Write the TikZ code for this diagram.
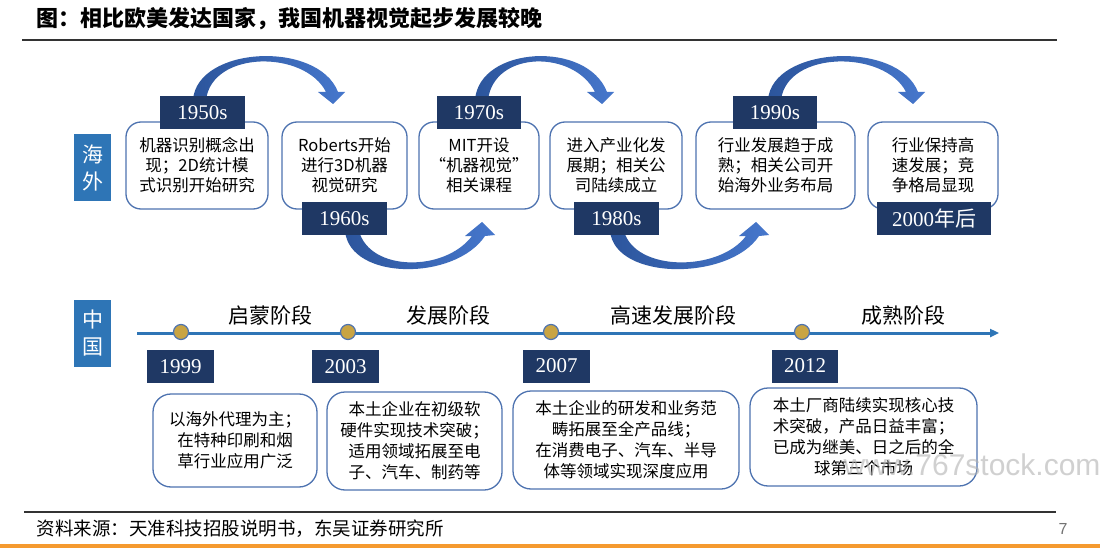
\documentclass[tikz,border=0pt]{standalone}
\usepackage{fontspec}
\setmainfont{Liberation Serif}
\newfontfamily\cjk{Noto Sans CJK SC}
\newfontfamily\wmfont{Liberation Sans}
\usetikzlibrary{arrows.meta}
\definecolor{navy}{HTML}{1F3864}
\definecolor{boxblue}{HTML}{4E73B0}
\definecolor{tagblue}{HTML}{2E75B6}
\definecolor{arcL}{HTML}{2C559C}
\definecolor{arcR}{HTML}{4677CC}
\definecolor{gold}{HTML}{C9A443}
\definecolor{stripe}{HTML}{F59A2F}
\tikzset{
  yearbox/.style={fill=navy, text=white, inner sep=0pt, minimum height=33pt,
    font=\fontsize{21}{21}\selectfont},
  topbox/.style={draw=boxblue, line width=1.3pt, rounded corners=15pt, fill=white,
    inner sep=0pt, minimum height=87pt, align=center,
    font=\cjk\fontsize{16.5}{20}\selectfont},
  cnbox/.style={draw=boxblue, line width=1.3pt, rounded corners=18pt, fill=white,
    inner sep=0pt, align=center, font=\cjk\fontsize{16.5}{21}\selectfont},
  sidetag/.style={fill=tagblue, text=white, inner sep=0pt, minimum width=37pt,
    minimum height=67pt, align=center, font=\cjk\fontsize{21}{27}\selectfont},
  stage/.style={font=\cjk\fontsize{21}{21}\selectfont},
  dot/.style={circle, fill=gold, draw=boxblue, line width=1.2pt, inner sep=0pt,
    minimum size=15pt},
  arcshade/.style={left color=arcL, right color=arcR},
}
\newcommand{\overarc}[2]{%
  \shade[arcshade] (#1,100) .. controls ({#1+4},46) and ({#2-15},40) .. ({#2+5},92)
    -- ({#2+12},92) -- (#2,104) -- ({#2-15},92) -- ({#2-7},92)
    .. controls ({#2-28},50) and ({#1+19},50) .. ({#1+13},100) -- cycle;}
\newcommand{\underarc}[2]{%
  \shade[arcshade] (#1,231) .. controls ({#1+5},281) and ({#2-27},281) .. ({#2+3},236)
    -- ({#2+13},235) -- (#2,222) -- ({#2-17},236) -- ({#2-10},236)
    .. controls ({#2-37},272) and ({#1+25},272) .. ({#1+14},231) -- cycle;}
\begin{document}
\begin{tikzpicture}[x=1pt, y=-1pt]
\useasboundingbox (0,0) rectangle (1100,548);
\fill[white] (0,0) rectangle (1100,548);

% title
\node[anchor=west, font=\cjk\bfseries\fontsize{22}{22}\selectfont] (title) at (33,19)
  {图：相比欧美发达国家，我国机器视觉起步发展较晚};
\draw[line width=2pt, black!80] (22,40) -- (1057,40);

% curved arrows (overseas)
\overarc{193}{333}
\underarc{345}{482}
\overarc{475}{602}
\underarc{610}{756}
\overarc{768}{913}

% overseas tag
\node[sidetag] (hw) at (92.5,167.5) {海\\外};

% overseas boxes
\node[topbox, minimum width=142pt] (b1) at (197,165.5) {机器识别概念出\\现；2D统计模\\式识别开始研究};
\node[topbox, minimum width=125pt] (b2) at (344.5,165.5) {Roberts开始\\进行3D机器\\视觉研究};
\node[topbox, minimum width=120pt] (b3) at (479,165.5) {MIT开设\\“机器视觉”\\相关课程};
\node[topbox, minimum width=132pt] (b4) at (616,165.5) {进入产业化发\\展期；相关公\\司陆续成立};
\node[topbox, minimum width=159pt] (b5) at (775.5,165.5) {行业发展趋于成\\熟；相关公司开\\始海外业务布局};
\node[topbox, minimum width=130pt] (b6) at (933,165.5) {行业保持高\\速发展；竞\\争格局显现};

% overseas year labels
\node[yearbox, minimum width=85pt] (y1950) at (202.5,112.5) {1950s};
\node[yearbox, minimum width=85pt] (y1960) at (344.5,218.5) {1960s};
\node[yearbox, minimum width=84pt] (y1970) at (479,112.5) {1970s};
\node[yearbox, minimum width=85pt] (y1980) at (616.5,218.5) {1980s};
\node[yearbox, minimum width=84pt] (y1990) at (775,112.5) {1990s};
\node[yearbox, minimum width=114pt] (y2000) at (934,218.5) {2000{\cjk 年后}};

% China section
\node[sidetag] (cn) at (92.5,333.5) {中\\国};
\coordinate (tl0) at (137,333);
\coordinate (tl1) at (999,333);
\draw[tagblue, line width=3pt, -{Triangle[length=9pt,width=8pt]}] (tl0) -- (tl1);
\node[dot] (d1) at (181,332) {};
\node[dot] (d2) at (348,332) {};
\node[dot] (d3) at (551,332) {};
\node[dot] (d4) at (802,332) {};

\node[stage] (s1) at (270,315) {启蒙阶段};
\node[stage] (s2) at (448,315) {发展阶段};
\node[stage] (s3) at (673,315) {高速发展阶段};
\node[stage] (s4) at (903,316) {成熟阶段};

\node[yearbox, minimum width=67pt] (c1999) at (180.5,366.5) {1999};
\node[yearbox, minimum width=67pt] (c2003) at (345.5,366.5) {2003};
\node[yearbox, minimum width=67pt] (c2007) at (556.5,366) {2007};
\node[yearbox, minimum width=66pt] (c2012) at (805,366) {2012};

\node[cnbox, minimum width=164pt, minimum height=93pt] (ca) at (235,440.5)
  {以海外代理为主；\\在特种印刷和烟\\草行业应用广泛};
\node[cnbox, minimum width=175pt, minimum height=98pt] (cb) at (414.5,441)
  {本土企业在初级软\\硬件实现技术突破；\\适用领域拓展至电\\子、汽车、制药等};
\node[cnbox, minimum width=226pt, minimum height=98pt] (cc) at (626,440)
  {本土企业的研发和业务范\\畴拓展至全产品线；\\在消费电子、汽车、半导\\体等领域实现深度应用};
\node[cnbox, minimum width=227pt, minimum height=98pt] (cd) at (863.5,437)
  {本土厂商陆续实现核心技\\术突破，产品日益丰富；\\已成为继美、日之后的全\\球第三个市场};

% watermark
\node[anchor=east, font=\wmfont\fontsize{30}{30}\selectfont, text=black!30, opacity=0.6]
  (wm) at (1104,465) {www.767stock.com};

% footer
\draw[line width=2.5pt, black!80] (24,512) -- (1056,512);
\node[anchor=west, font=\cjk\fontsize{18.5}{18.5}\selectfont] (src) at (33,529)
  {资料来源：天准科技招股说明书，东吴证券研究所};
\node[font=\wmfont\fontsize{16}{16}\selectfont, text=black!55] (pg) at (1063,529) {7};
\fill[stripe] (0,544) rectangle (1100,548);
\end{tikzpicture}
\end{document}
